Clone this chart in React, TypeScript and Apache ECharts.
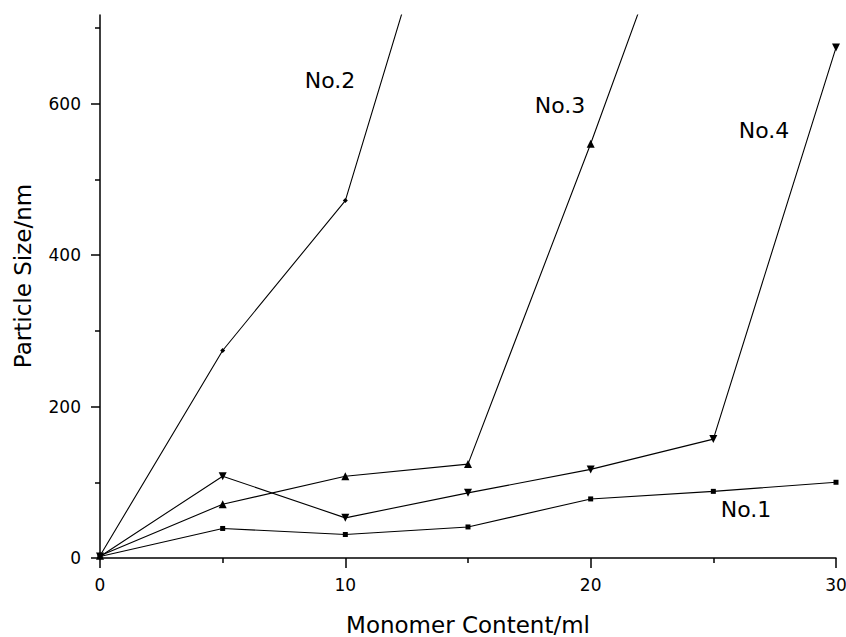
import React, { useEffect, useRef } from "react";
import * as echarts from "echarts";

// Monomer content (ml)
const xValues = [0, 5, 10, 15, 20, 25, 30];
// Particle size (nm) for each recipe
const no1Values = [2, 39, 31, 41, 78, 88, 100];
const no2Values = [3, 274, 472, 1008];
const no3Values = [3, 71, 108, 124, 547, 992];
const no4Values = [2, 108, 53, 86, 117, 157, 674];

const yMajorTicks = [0, 200, 400, 600];
const yMinorTicks = [100, 300, 500, 700];
const seriesNames = ["No.1", "No.2", "No.3", "No.4"];
const xTitle = "Monomer Content/ml";
const yTitle = "Particle Size/nm";

const FONT = "DejaVu Sans";

function pairs(vals: number[]) {
  return vals.map((v, i) => [xValues[i], v]);
}

export default function App() {
  const ref = useRef<HTMLDivElement>(null);
  useEffect(() => {
    if (!ref.current) return;
    const chart = echarts.init(ref.current, null, { renderer: "svg" });
    const lineStyle = { color: "#000", width: 1.1 };
    const itemStyle = { color: "#000" };
    const mk = (name: string, vals: number[], symbol: string, size: number, rotate = 0) => ({
      name,
      type: "line",
      data: pairs(vals),
      symbol,
      symbolSize: size,
      symbolRotate: rotate,
      showSymbol: true,
      lineStyle,
      itemStyle,
      clip: true,
      z: 3,
    });
    const label = (text: string, x: number, y: number) => ({
      type: "text",
      x,
      y,
      style: { text, fontFamily: FONT, fontSize: 22, fill: "#000", align: "center", verticalAlign: "middle" },
    });
    chart.setOption({
      animation: false,
      backgroundColor: "#fff",
      grid: { left: 100, right: 10, top: 15, bottom: 79, outerBoundsMode: "none" },
      xAxis: {
        type: "value",
        min: 0,
        max: 30,
        interval: 10,
        name: xTitle,
        nameLocation: "middle",
        nameGap: 55,
        nameTextStyle: { fontFamily: FONT, fontSize: 23, color: "#000" },
        axisLine: { show: true, lineStyle: { color: "#000", width: 1.5 } },
        axisTick: { show: true, length: 10, lineStyle: { color: "#000", width: 1.5 } },
        minorTick: { show: true, splitNumber: 2, length: 5, lineStyle: { color: "#000", width: 1.5 } },
        axisLabel: { fontFamily: FONT, fontSize: 17, color: "#000", margin: 18 },
        splitLine: { show: false },
      },
      yAxis: [
        {
          type: "value",
          min: 0,
          max: 717,
          axisLine: { show: true, lineStyle: { color: "#000", width: 1.5 } },
          axisTick: { show: true, length: 9, customValues: yMajorTicks, lineStyle: { color: "#000", width: 1.5 } },
          axisLabel: { fontFamily: FONT, fontSize: 17, color: "#000", margin: 19, customValues: yMajorTicks },
          splitLine: { show: false },
        },
        {
          type: "value",
          min: 0,
          max: 717,
          position: "left",
          axisLine: { show: false },
          axisTick: { show: true, length: 5, customValues: yMinorTicks, lineStyle: { color: "#000", width: 1.5 } },
          axisLabel: { show: false },
          splitLine: { show: false },
        },
      ],
      series: [
        mk(seriesNames[0], no1Values, "rect", 5),
        mk(seriesNames[1], no2Values, "diamond", 5),
        mk(seriesNames[2], no3Values, "triangle", 8),
        mk(seriesNames[3], no4Values, "triangle", 8, 180),
      ],
      graphic: [
        {
          type: "text",
          x: 23,
          y: 276,
          rotation: Math.PI / 2,
          style: { text: yTitle, fontFamily: FONT, fontSize: 23, fill: "#000", align: "center", verticalAlign: "middle" },
        },
        label(seriesNames[1], 330, 80),
        label(seriesNames[2], 560, 105),
        label(seriesNames[3], 764, 130),
        label(seriesNames[0], 746, 509),
      ],
    });
    return () => chart.dispose();
  }, []);
  return (
    <div
      ref={ref}
      style={{ position: "absolute", left: 0, top: 0, width: 846, height: 637, background: "#fff" }}
    />
  );
}
